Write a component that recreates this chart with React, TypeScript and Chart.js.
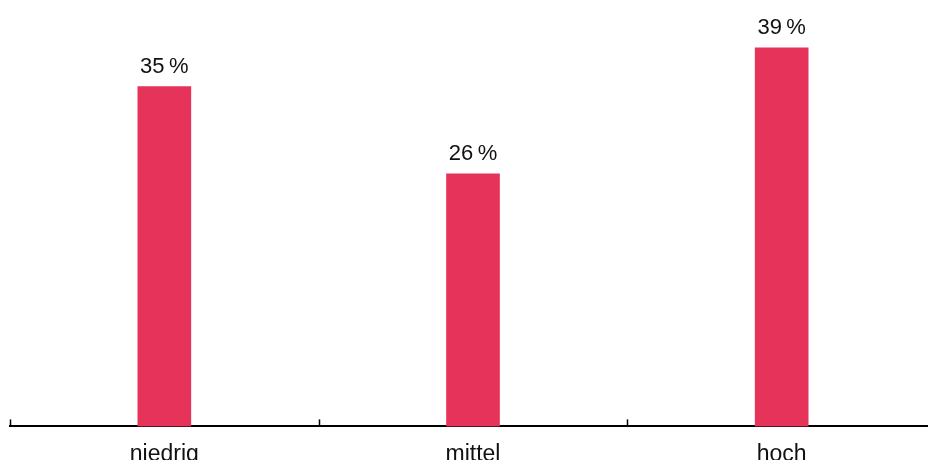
import React, { useEffect, useRef } from "react";
import { Chart, registerables } from "chart.js";

Chart.register(...registerables);

const categories = ["niedrig", "mittel", "hoch"];
const values = [35, 26, 39];
const valueLabels = ["35\u202F%", "26\u202F%", "39\u202F%"];

const FONT = "'Liberation Sans', Arial, sans-serif";
const BAR_COLOR = "#e6335a";
const TEXT_COLOR = "#111111";
const CANVAS_W = 936;
const CANVAS_H = 474;

const valueLabelPlugin = {
  id: "valueLabels",
  afterDatasetsDraw(chart: any) {
    const ctx = chart.ctx;
    const meta = chart.getDatasetMeta(0);
    ctx.save();
    ctx.font = `22px ${FONT}`;
    ctx.fillStyle = TEXT_COLOR;
    ctx.textAlign = "center";
    ctx.textBaseline = "alphabetic";
    meta.data.forEach((bar: any, i: number) => {
      ctx.fillText(valueLabels[i], bar.x, bar.y - 14);
    });
    ctx.restore();
  },
};

const tickMarkPlugin = {
  id: "tickMarks",
  afterDraw(chart: any) {
    const x = chart.scales.x;
    const ctx = chart.ctx;
    const n = categories.length;
    const step = (x.right - x.left) / n;
    ctx.save();
    ctx.strokeStyle = "#000";
    ctx.lineWidth = 1.5;
    for (let i = 0; i <= n; i++) {
      const px = Math.round(x.left + i * step) + 0.5;
      ctx.beginPath();
      ctx.moveTo(px, x.top - 7);
      ctx.lineTo(px, x.top);
      ctx.stroke();
    }
    ctx.restore();
  },
};

export default function App() {
  const ref = useRef<HTMLCanvasElement | null>(null);
  useEffect(() => {
    if (!ref.current) return;
    const chart = new Chart(ref.current, {
      type: "bar",
      data: {
        labels: categories,
        datasets: [
          {
            data: values,
            backgroundColor: BAR_COLOR,
            borderWidth: 0,
            barThickness: 53,
          },
        ],
      },
      options: {
        responsive: false,
        animation: false,
        layout: { padding: { top: 38, left: 10, right: 0, bottom: 0 } },
        plugins: { legend: { display: false }, tooltip: { enabled: false } },
        scales: {
          x: {
            grid: { display: false },
            border: { display: true, color: "#000", width: 2 },
            ticks: {
              color: TEXT_COLOR,
              font: { family: FONT, size: 23 },
              padding: 6,
              maxRotation: 0,
            },
          },
          y: {
            display: false,
            min: 0,
            max: 40,
          },
        },
      },
      plugins: [valueLabelPlugin, tickMarkPlugin],
    });
    return () => chart.destroy();
  }, []);
  return (
    <div style={{ position: "fixed", left: 0, top: 0, width: CANVAS_W, height: CANVAS_H, background: "#fff" }}>
      <canvas ref={ref} width={CANVAS_W} height={CANVAS_H} style={{ width: CANVAS_W, height: CANVAS_H, display: "block" }} />
    </div>
  );
}
